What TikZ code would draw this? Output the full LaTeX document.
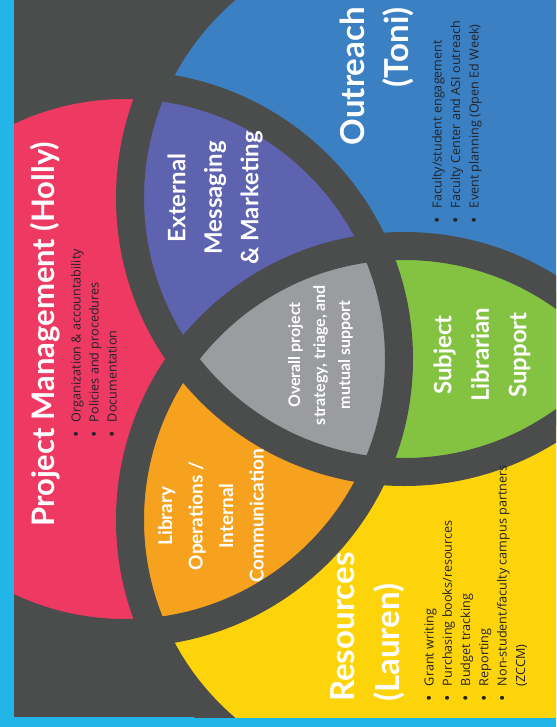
\documentclass[tikz,border=0pt]{standalone}
\usepackage{fontspec}
\setmainfont{Open Sans}
\newfontfamily\ttlfamily{Lato}
\newcommand\TF[2]{\ttlfamily\bfseries\fontsize{#1}{#2}\selectfont}
\newcommand\LF[2]{\fontsize{#1}{#2}\selectfont}
\newcommand\bul{\makebox[15pt][l]{\raisebox{-1.6pt}{\fontsize{17}{17}\selectfont •}}}
\definecolor{frameblue}{RGB}{34,181,232}
\definecolor{bgdark}{RGB}{75,76,76}
\definecolor{pmred}{RGB}{238,58,98}
\definecolor{outblue}{RGB}{59,128,195}
\definecolor{resyellow}{RGB}{253,211,9}
\definecolor{extpurple}{RGB}{93,99,174}
\definecolor{liborange}{RGB}{246,162,30}
\definecolor{subgreen}{RGB}{131,195,65}
\definecolor{ctrgray}{RGB}{155,156,159}
\definecolor{listtext}{RGB}{35,35,40}
\tikzset{
  ttl/.style={text=white, inner sep=0pt, rotate=90},
  lst/.style={text=listtext, inner sep=0pt, rotate=90, align=left},
  gap/.style={draw=bgdark, line width=28pt}
}
\begin{document}
\begin{tikzpicture}[x=1pt,y=-1pt]
\useasboundingbox (0,0) rectangle (556,727);
\fill[frameblue] (0,0) rectangle (556,727);
\fill[bgdark] (14,0) rectangle (556,717);
\coordinate (cR) at (125,359);
\coordinate (cB) at (404,198);
\coordinate (cY) at (404,520);
\begin{scope}
  \clip (14,0) rectangle (556,717);
  \fill[pmred] (cR) circle[radius=274pt];
  \fill[outblue] (cB) circle[radius=274pt];
  \fill[resyellow] (cY) circle[radius=274pt];
  \begin{scope}
    \clip (cR) circle[radius=274pt];
    \fill[extpurple] (cB) circle[radius=274pt];
    \fill[liborange] (cY) circle[radius=274pt];
    \clip (cB) circle[radius=274pt];
    \fill[ctrgray] (cY) circle[radius=274pt];
  \end{scope}
  \begin{scope}
    \clip (cB) circle[radius=274pt];
    \begin{scope}[even odd rule]
      \clip (0,0) rectangle (600,800) (cR) circle[radius=274pt];
      \fill[subgreen] (cY) circle[radius=274pt];
    \end{scope}
  \end{scope}
  \draw[gap] (cR) circle[radius=274pt];
  \draw[gap] (cB) circle[radius=274pt];
  \draw[gap] (cY) circle[radius=274pt];
\end{scope}

\node[ttl, anchor=base west, font=\TF{31}{34}] (pm) at (54,527) {Project Management (Holly)};
\node[lst, anchor=base west, font=\LF{12.6}{18}] (pmlist) at (116.5,437.2)
  {\bul Organization \& accountability\\\bul Policies and procedures\\\bul Documentation};

\node[ttl, align=right, anchor=north east, font=\TF{33}{44}] (out) at (340,7) {Outreach\\(Toni)};
\node[lst, anchor=base west, font=\LF{12.6}{18.5}] (outlist) at (478.5,223.2)
  {\bul Faculty/student engagement\\\bul Faculty Center and ASI outreach\\\bul Event planning (Open Ed Week)};

\node[ttl, align=left, anchor=north west, font=\TF{33}{45}] (res) at (330,702) {Resources\\(Lauren)};
\node[lst, anchor=base west, font=\LF{12.6}{18.3}] (reslist) at (525,701.2)
  {\bul Grant writing\\\bul Purchasing books/resources\\\bul Budget tracking\\\bul Reporting\\\bul Non-student/faculty campus partners\\\hspace*{15pt}(ZCCM)};

\node[ttl, align=center, font=\TF{24}{36.5}] (ext) at (215,198) {External\\Messaging\\\& Marketing};
\node[ttl, align=center, font=\TF{19}{30.5}] (lib) at (211,516) {Library\\Operations /\\Internal\\Communication};
\node[ttl, align=center, font=\TF{16}{25}] (ovr) at (320.5,355) {Overall project\\strategy, triage, and\\mutual support};
\node[ttl, align=center, font=\TF{24}{37.5}] (sub) at (482,355) {Subject\\Librarian\\Support};
\end{tikzpicture}
\end{document}
